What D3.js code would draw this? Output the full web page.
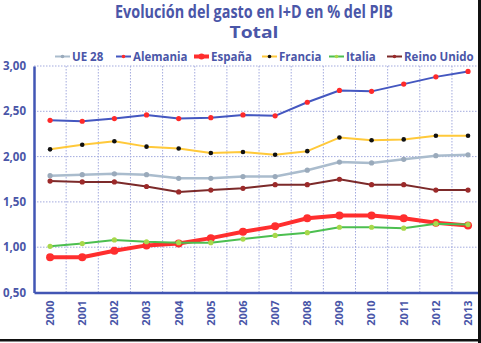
<!DOCTYPE html>
<html>
<head>
<meta charset="utf-8">
<script src="https://cdn.jsdelivr.net/npm/d3@7/dist/d3.min.js"></script>
<style>
  html, body { margin: 0; padding: 0; background: #fff; }
  svg { display: block; }
  text { font-family: "Open Sans", "DejaVu Sans", sans-serif; font-weight: bold; fill: #4a56a8; }
</style>
</head>
<body>
<svg id="chart" width="481" height="343"></svg>
<script>
// R&D expenditure as % of GDP, 2000–2013
const years = ["2000","2001","2002","2003","2004","2005","2006","2007","2008","2009","2010","2011","2012","2013"];
const ue28     = [1.79,1.80,1.81,1.80,1.76,1.76,1.78,1.78,1.85,1.94,1.93,1.97,2.01,2.02];
const alemania = [2.40,2.39,2.42,2.46,2.42,2.43,2.46,2.45,2.60,2.73,2.72,2.80,2.88,2.94];
const espana   = [0.89,0.89,0.96,1.02,1.04,1.10,1.17,1.23,1.32,1.35,1.35,1.32,1.27,1.24];
const francia  = [2.08,2.13,2.17,2.11,2.09,2.04,2.05,2.02,2.06,2.21,2.18,2.19,2.23,2.23];
const italia   = [1.01,1.04,1.08,1.06,1.05,1.05,1.09,1.13,1.16,1.22,1.22,1.21,1.26,1.25];
const reinoUnido = [1.73,1.72,1.72,1.67,1.61,1.63,1.65,1.69,1.69,1.75,1.69,1.69,1.63,1.63];
const yTicks = [0.5, 1.0, 1.5, 2.0, 2.5, 3.0];

const series = [
  { name: "UE 28",       values: ue28,       line: "#aabccd", dot: "#9aaabb", width: 2.5, r: 2.6, legendW: 1.5 },
  { name: "Alemania",    values: alemania,   line: "#4457c0", dot: "#ff2a2a", width: 2,   r: 2.6, legendW: 1.5 },
  { name: "España",      values: espana,     line: "#ff2e2e", dot: "#ff2e2e", width: 4,   r: 4,   legendW: 3.5 },
  { name: "Francia",     values: francia,    line: "#ffc93a", dot: "#111111", width: 2,   r: 2.3, legendW: 1.5 },
  { name: "Italia",      values: italia,     line: "#4cbf50", dot: "#a8d84a", width: 2,   r: 2.6, legendW: 1.5 },
  { name: "Reino Unido", values: reinoUnido, line: "#7c2a2a", dot: "#9c2a2a", width: 2,   r: 2.6, legendW: 1.5 }
];

const svg = d3.select("#chart");
const plotLeft = 34, plotTop = 66, plotBottom = 292.5, step = 32.15;

const x = d3.scaleBand().domain(years).range([plotLeft, plotLeft + step * years.length]).padding(0);
const y = d3.scaleLinear().domain([0.5, 3]).range([plotBottom, plotTop]);
const fmt = v => d3.format(".2f")(v).replace(".", ",");

// Title, two lines
svg.append("text").attr("x", 254).attr("y", 18).attr("text-anchor", "middle")
  .attr("font-size", 17).attr("textLength", 278).attr("lengthAdjust", "spacingAndGlyphs")
  .text("Evolución del gasto en I+D en % del PIB");
svg.append("text").attr("x", 254).attr("y", 38).attr("text-anchor", "middle")
  .attr("font-size", 15.5).attr("textLength", 49).attr("lengthAdjust", "spacingAndGlyphs")
  .text("Total");

// Dotted grid
const grid = svg.append("g");
grid.selectAll("line.h").data(yTicks.filter(d => d > 0.5)).join("line")
  .attr("x1", plotLeft).attr("x2", 481)
  .attr("y1", d => y(d)).attr("y2", d => y(d))
  .attr("stroke", "#a3aade").attr("stroke-width", 1).attr("stroke-dasharray", "1.5,1.5");
grid.selectAll("line.v").data(years.slice(1)).join("line")
  .attr("x1", d => x(d)).attr("x2", d => x(d))
  .attr("y1", plotTop).attr("y2", plotBottom)
  .attr("stroke", "#a3aade").attr("stroke-width", 1).attr("stroke-dasharray", "1.5,1.5");

// Axes
const yAxis = svg.append("g").attr("transform", `translate(${plotLeft},0)`)
  .call(d3.axisLeft(y).tickValues(yTicks).tickFormat(fmt).tickSize(0).tickPadding(8));
yAxis.select(".domain").attr("stroke", "#4256b4").attr("stroke-width", 2.5);
yAxis.selectAll("text").attr("font-size", 11.5).attr("fill", "#4a56a8")
  .attr("font-family", "'Open Sans', sans-serif").attr("font-weight", "bold");

const xAxis = svg.append("g").attr("transform", `translate(0,${plotBottom})`)
  .call(d3.axisBottom(x).tickSize(0).tickPadding(0));
xAxis.select(".domain").attr("stroke", "#4256b4").attr("stroke-width", 2.5);
xAxis.selectAll("text")
  .attr("font-size", 11).attr("fill", "#4a56a8")
  .attr("font-family", "'Open Sans', sans-serif").attr("font-weight", "bold")
  .attr("text-anchor", "end").attr("dy", "0.35em")
  .attr("transform", "translate(0,8) rotate(-90)")
  .attr("x", 0).attr("y", 0);

// Lines and markers
const line = d3.line().x((d, i) => x(years[i]) + x.bandwidth() / 2).y(d => y(d));
series.forEach(s => {
  const g = svg.append("g");
  g.append("path").datum(s.values).attr("d", line)
    .attr("fill", "none").attr("stroke", s.line).attr("stroke-width", s.width)
    .attr("stroke-linejoin", "round");
  g.selectAll("circle").data(s.values).join("circle")
    .attr("cx", (d, i) => x(years[i]) + x.bandwidth() / 2)
    .attr("cy", d => y(d)).attr("r", s.r).attr("fill", s.dot);
});

// Legend
const legendX = [55, 116, 194, 262, 329, 387];
const legend = svg.append("g");
series.forEach((s, i) => {
  const g = legend.append("g").attr("transform", `translate(${legendX[i]},56.5)`);
  g.append("line").attr("x1", 0).attr("x2", 15).attr("stroke", s.line).attr("stroke-width", s.legendW + 0.5);
  g.append("circle").attr("cx", 7.5).attr("r", s.name === "España" ? 3 : 1.8).attr("fill", s.dot);
  g.append("text").attr("x", 17).attr("dy", "0.35em").attr("font-size", 11.5).text(s.name);
});

// Frame edges
svg.append("rect").attr("x", 478).attr("y", 0).attr("width", 3).attr("height", 343).attr("fill", "#111");
svg.append("rect").attr("x", 0).attr("y", 339).attr("width", 481).attr("height", 2.5).attr("fill", "#111");
</script>
</body>
</html>
